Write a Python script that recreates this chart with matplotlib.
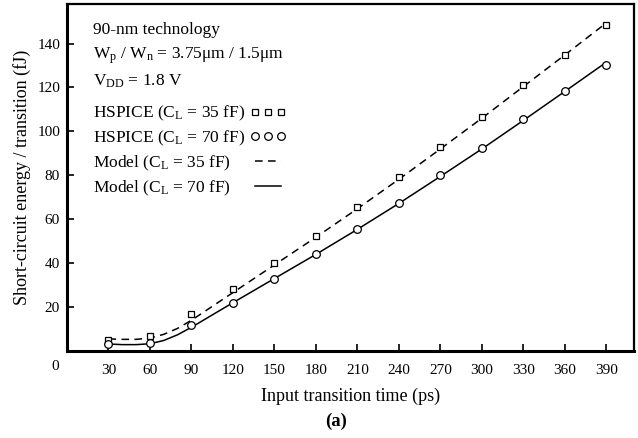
import numpy as np
import matplotlib.pyplot as plt
from matplotlib.lines import Line2D

plt.rcParams['font.family'] = ['Liberation Serif', 'DejaVu Serif']
plt.rcParams['mathtext.fontset'] = 'custom'
plt.rcParams['mathtext.rm'] = 'Liberation Serif'
plt.rcParams['mathtext.it'] = 'Liberation Serif:italic'

# HSPICE samples
t_sim = [30, 60, 90, 120, 150, 180, 210, 240, 270, 300, 330, 360, 390]
e_sim_35 = [5.0, 6.8, 16.8, 28.2, 40.0, 52.3, 65.5, 79.1, 92.7, 106.4, 120.9, 135.0, 148.6]
e_sim_70 = [3.2, 3.6, 11.8, 21.8, 32.7, 44.0, 55.5, 67.3, 80.0, 92.3, 105.5, 118.6, 130.0]

# model curves
t_mod = [30, 40, 50, 60, 70, 80, 90, 105, 120, 150, 180, 210, 240, 270, 300, 330, 360, 390]
e_mod_35 = [5.5, 5.3, 5.3, 5.9, 7.6, 10.3, 14.0, 20.3, 26.6, 39.2, 51.8, 64.8, 78.2, 92.0, 106.0, 120.4, 134.8, 149.4]
e_mod_70 = [3.2, 2.9, 2.9, 3.3, 4.8, 7.4, 10.8, 16.4, 22.0, 33.0, 44.0, 55.4, 67.2, 79.5, 92.0, 105.0, 118.2, 131.5]

fig = plt.figure(figsize=(6.38, 4.38), dpi=100)
ax = fig.add_axes([67/638, 1-351/438, (634-67)/638, (351-4)/438])

ax.plot(t_mod, e_mod_35, color='black', lw=1.1, ls=(0, (5, 3.5)), label='Model (C$_\\mathrm{L}$ = 35 fF)')
ax.plot(t_mod, e_mod_70, color='black', lw=1.1, ls='-', label='Model (C$_\\mathrm{L}$ = 70 fF)')
ax.plot(t_sim, e_sim_35, 's', ms=4.5, mfc='white', mec='black', mew=0.9, label='HSPICE (C$_\\mathrm{L}$ = 35 fF)')
ax.plot(t_sim, e_sim_70, 'o', ms=5.5, mfc='white', mec='black', mew=0.9, label='HSPICE (C$_\\mathrm{L}$ = 70 fF)')

ax.set_xlim(0, 410)
ax.set_ylim(0, 158)
ax.set_xticks(t_sim)
ax.set_yticks([20, 40, 60, 80, 100, 120, 140])
ax.tick_params(direction='in', length=5, width=1.2, labelsize=11)
ax.tick_params(axis='x', pad=9)
ax.tick_params(axis='y', pad=5)
for s in ax.spines.values():
    s.set_linewidth(1.6)
ax.spines['left'].set_linewidth(2.2)
ax.spines['bottom'].set_linewidth(2.2)

fig.text(55/638, 1-367/438, '0', fontsize=11, ha='center', va='center')

ax.set_xlabel('Input transition time (ps)', fontsize=13)
ax.xaxis.set_label_coords(0.5, -0.105)
ax.set_ylabel('Short-circuit energy / transition (fJ)', fontsize=13)
ax.yaxis.set_label_coords(-0.064, 0.5)
fig.text(336/638, 1-421/438, '(a)', fontsize=13.5, fontweight='bold', ha='center', va='center')

hdr = ['90-nm technology', 'W$_\\mathrm{p}$ / W$_\\mathrm{n}$ = 3.75\u03bcm / 1.5\u03bcm', 'V$_\\mathrm{DD}$ = 1.8 V']
for i, h in enumerate(hdr):
    ax.text((93-67)/567, 1-(30-4+i*25.5)/347, h, transform=ax.transAxes, fontsize=12.5, va='center', ha='left')

handles, labels = ax.get_legend_handles_labels()
order = [2, 3, 0, 1]
hs = [handles[i] for i in order]
ls = [labels[i] for i in order]
anchor_y = 1-(104-4)/347
common = dict(loc='upper left', frameon=False, numpoints=3, fontsize=12.5,
              labelspacing=0.33, borderaxespad=0, borderpad=0)
# text column
blank = [Line2D([], [], lw=0) for _ in hs]
leg1 = ax.legend(blank, ls, bbox_to_anchor=((93-67)/567, anchor_y),
                 handlelength=0, handletextpad=0, **common)
ax.add_artist(leg1)
# symbol column (same labels, hidden, so the rows line up)
leg2 = ax.legend(hs, ls, bbox_to_anchor=((250-67)/567, anchor_y),
                 handlelength=2.1, handletextpad=0, **common)
for t in leg2.get_texts():
    t.set_alpha(0)

fig.savefig('out.png', dpi=100)
